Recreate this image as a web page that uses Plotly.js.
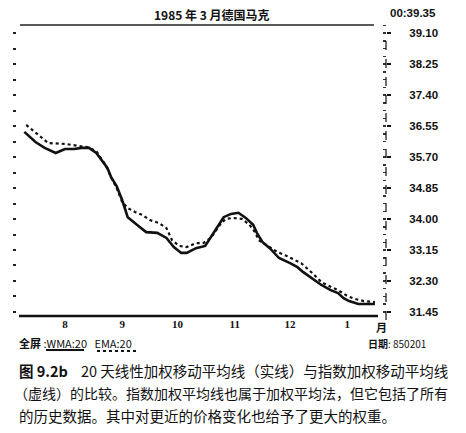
<!DOCTYPE html>
<html>
<head>
<meta charset="utf-8">
<script src="https://cdn.plot.ly/plotly-3.0.1.min.js"></script>
<style>
  body { margin: 0; background: white; }
  #chart { width: 466px; height: 433px; }
</style>
</head>
<body>
<div id="chart"></div>
<script>
// 20-day WMA (solid) and EMA (dotted), DM, Jul 1984 - Feb 1985
var wmaDates = ['1984-07-24','1984-07-30','1984-08-04','1984-08-10','1984-08-15','1984-08-20','1984-08-24','1984-08-28',
    '1984-09-01','1984-09-04','1984-09-07','1984-09-09','1984-09-12','1984-09-15','1984-09-18','1984-09-23','1984-09-28',
    '1984-10-04','1984-10-09','1984-10-13','1984-10-17','1984-10-20','1984-10-25','1984-10-30',
    '1984-11-03','1984-11-07','1984-11-09','1984-11-13','1984-11-17','1984-11-21','1984-11-25','1984-11-27','1984-11-30',
    '1984-12-04','1984-12-09','1984-12-15','1984-12-19','1984-12-22','1984-12-27',
    '1985-01-01','1985-01-06','1985-01-10','1985-01-13','1985-01-16','1985-01-21','1985-01-26','1985-01-30'];
var wmaValues = [36.39,36.11,35.95,35.81,35.92,35.92,35.95,35.95,
    35.81,35.62,35.40,35.15,34.90,34.52,34.05,33.84,33.64,
    33.62,33.48,33.23,33.07,33.07,33.20,33.26,
    33.59,33.89,34.05,34.14,34.17,34.03,33.84,33.62,33.37,
    33.20,32.93,32.79,32.68,32.55,32.36,
    32.19,32.05,31.97,31.83,31.75,31.67,31.67,31.67];

var emaDates = ['1984-07-25','1984-07-31','1984-08-06','1984-08-15','1984-08-20','1984-08-27',
    '1984-09-01','1984-09-06','1984-09-09','1984-09-12','1984-09-15','1984-09-18','1984-09-22','1984-09-26','1984-09-30',
    '1984-10-05','1984-10-09','1984-10-12','1984-10-16','1984-10-20','1984-10-25','1984-10-29',
    '1984-11-02','1984-11-07','1984-11-10','1984-11-14','1984-11-19','1984-11-23','1984-11-26','1984-11-28',
    '1984-12-02','1984-12-08','1984-12-13','1984-12-17','1984-12-21','1984-12-27',
    '1985-01-01','1985-01-06','1985-01-10','1985-01-15','1985-01-19','1985-01-24','1985-01-30'];
var emaValues = [36.58,36.33,36.08,36.06,36.03,35.97,
    35.86,35.48,35.15,34.85,34.47,34.30,34.19,34.11,33.97,
    33.89,33.75,33.42,33.26,33.23,33.34,33.34,
    33.48,33.84,34.00,34.03,34.00,33.84,33.64,33.42,
    33.29,33.10,32.99,32.88,32.79,32.52,
    32.27,32.14,32.05,31.89,31.81,31.75,31.72];

var monthTicks = ['1984-08-15','1984-09-15','1984-10-15','1984-11-15','1984-12-15','1985-01-15'];
var monthLabels = ['8','9','10','11','12','1'];
var priceTicks = [31.45,32.30,33.15,34.00,34.85,35.70,36.55,37.40,38.25,39.10];

// plot area in page pixels
var L = 17, R = 386, T = 25, B = 316;
function px(x) { return (x - L) / (R - L); }
function py(y) { return (B - y) / (B - T); }

var cjk = '"Noto Sans CJK SC", sans-serif';
var narrow = '"Liberation Sans Narrow", "Liberation Sans", sans-serif';

var wma = {
    x: wmaDates, y: wmaValues, type: 'scatter', mode: 'lines',
    line: { color: '#111', width: 2.6 }, yaxis: 'y', hoverinfo: 'skip'
};
var ema = {
    x: emaDates, y: emaValues, type: 'scatter', mode: 'lines',
    line: { color: '#111', width: 2.2, dash: 'dot' }, yaxis: 'y2', hoverinfo: 'skip'
};

var yr = [31.34, 39.32];

function note(text, x, y, size, family, xanchor) {
    return { text: text, xref: 'paper', yref: 'paper', x: px(x), y: py(y),
        xanchor: xanchor || 'center', yanchor: 'middle', showarrow: false,
        font: { family: family || cjk, size: size, color: '#111' } };
}

var layout = {
    width: 466, height: 433,
    margin: { l: L, r: 466 - R, t: T, b: 433 - B },
    paper_bgcolor: 'white', plot_bgcolor: 'white',
    showlegend: false,
    xaxis: {
        type: 'date', range: ['1984-07-20', '1985-02-05'],
        tickvals: monthTicks, ticktext: monthLabels,
        showgrid: false, zeroline: false, showline: false,
        ticks: '', ticklabelstandoff: 0,
        tickfont: { family: '"Liberation Serif", serif', size: 11, color: '#111', weight: 'bold' }
    },
    yaxis: {
        range: yr, side: 'left', showgrid: false, zeroline: false, showline: false,
        tickmode: 'linear', tick0: 31.45, dtick: 0.425,
        ticks: 'outside', ticklen: 3, tickwidth: 2, tickcolor: '#222',
        showticklabels: false
    },
    yaxis2: {
        range: yr, side: 'right', overlaying: 'y', showgrid: false, zeroline: false,
        showline: false,
        tickvals: priceTicks, ticktext: priceTicks.map(function (v) { return v.toFixed(2); }),
        ticks: 'outside', ticklen: 4, tickwidth: 1.5, tickcolor: '#111',
        minor: { dtick: 0.2125, tick0: 31.45, ticks: 'inside', ticklen: 3, tickcolor: '#333' },
        ticklabelstandoff: 16,
        tickfont: { family: narrow, size: 11.5, color: '#111', weight: 'bold' }
    },
    shapes: [
        // rule under the title
        { type: 'line', xref: 'paper', yref: 'paper', x0: px(20), x1: px(374), y0: py(25), y1: py(25),
          line: { color: '#222', width: 1.5 } },
        // heavy bottom axis line
        { type: 'line', xref: 'paper', yref: 'paper', x0: px(19), x1: px(378), y0: py(316), y1: py(316),
          line: { color: '#111', width: 2.6 } },
        // dashed right axis
        { type: 'line', xref: 'paper', yref: 'paper', x0: 1, x1: 1, y0: py(320), y1: py(33),
          line: { color: '#111', width: 1.2, dash: 'dash' } },
        // legend underlines
        { type: 'line', xref: 'paper', yref: 'paper', x0: px(46), x1: px(84), y0: py(350), y1: py(350),
          line: { color: '#111', width: 2 } },
        { type: 'line', xref: 'paper', yref: 'paper', x0: px(97), x1: px(137), y0: py(351), y1: py(351),
          line: { color: '#111', width: 2, dash: 'dot' } }
    ],
    annotations: [
        note('<b>1985 年 3 月德国马克</b>', 212, 15, 12),
        note('<b>00:39.35</b>', 413, 13, 11.5, narrow),
        note('<b>月</b>', 381, 327, 11),
        note('<b>全屏</b> :WMA:20   EMA:20', 17, 343, 11, cjk, 'left'),
        note('<b>日期</b>: 850201', 428, 343, 10, cjk, 'right'),
        note('<b>图 9.2b</b>    20 天线性加权移动平均线（实线）与指数加权移动平均线', 17, 370, 14.5, cjk, 'left'),
        note('（虚线）的比较。指数加权平均线也属于加权平均法，但它包括了所有', 12, 393, 14, cjk, 'left'),
        note('的历史数据。其中对更近的价格变化也给予了更大的权重。', 17, 415, 14.5, cjk, 'left')
    ]
};

Plotly.newPlot('chart', [wma, ema], layout, { displayModeBar: false, staticPlot: true });
</script>
</body>
</html>
